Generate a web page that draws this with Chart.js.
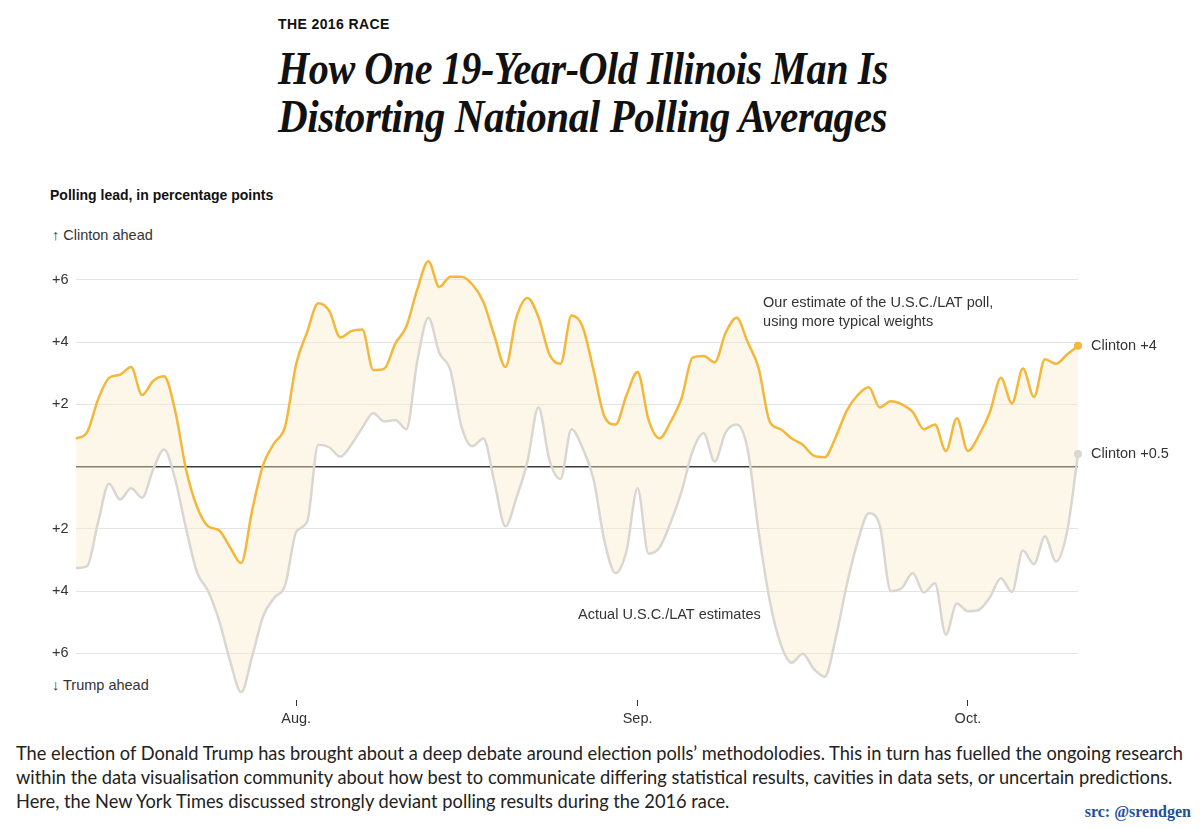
<!DOCTYPE html>
<html>
<head>
<meta charset="utf-8">
<script src="https://cdn.jsdelivr.net/npm/chart.js@4.4.0/dist/chart.umd.min.js"></script>
<style>
  body { margin: 0; width: 1200px; height: 828px; background: #fff; position: relative; overflow: hidden;
         font-family: "Liberation Sans", Arial, sans-serif; color: #333; }
  .abs { position: absolute; white-space: nowrap; }
  #kicker { left: 278px; top: 16px; font-size: 14px; font-weight: bold; color: #111; letter-spacing: 0.4px; }
  .hed { left: 278px; font-family: "Liberation Serif", serif; font-weight: bold; font-style: italic;
         font-size: 47px; line-height: 48px; color: #111; transform-origin: 0 0; letter-spacing: -0.5px; }
  #hed1 { top: 44px; }
  #hed2 { top: 92px; }
  .side { left: 52px; font-size: 14.5px; color: #333; }
  #ytitle { left: 50px; top: 187px; font-size: 14px; font-weight: bold; color: #111; }
  #up { top: 227px; }
  #down { top: 677px; }
  #wrap { position: absolute; left: 0; top: 240px; width: 1200px; height: 500px; }
  .cap { left: 16px; font-family: "Lato", sans-serif; font-size: 20px; line-height: 24px; color: #222; transform-origin: 0 0; }
  #cap1 { top: 740px; }
  #cap2 { top: 764px; }
  #cap3 { top: 788px; }
  #src { right: 9px; top: 803px; font-family: "Liberation Serif", serif; font-weight: bold; font-size: 16px; color: #1d4f9c; }
</style>
</head>
<body>
<div class="abs" id="kicker">THE 2016 RACE</div>
<div class="abs hed" id="hed1">How One 19-Year-Old Illinois Man Is</div>
<div class="abs hed" id="hed2">Distorting National Polling Averages</div>
<div class="abs side" id="ytitle">Polling lead, in percentage points</div>
<div class="abs side" id="up">↑ Clinton ahead</div>
<div class="abs side" id="down">↓ Trump ahead</div>
<div id="wrap"><canvas id="grafico"></canvas></div>
<div class="abs cap" id="cap1">The election of Donald Trump has brought about a deep debate around election polls’ methodolodies. This in turn has fuelled the ongoing research</div>
<div class="abs cap" id="cap2">within the data visualisation community about how best to communicate differing statistical results, cavities in data sets, or uncertain predictions.</div>
<div class="abs cap" id="cap3">Here, the New York Times discussed strongly deviant polling results during the 2016 race.</div>
<div class="abs" id="src">src: @srendgen</div>

<script>
// daily values, Jul. 12 to Oct. 11, 2016
const startDate = [2016, 6, 12];

// Our estimate of the U.S.C./LAT poll, using more typical weights
const estimate = [
  0.9, 1.1, 2.15, 2.85, 2.95, 3.2, 2.3, 2.75, 2.9, 1.8,
  -0.1, -1.3, -1.92, -2.05, -2.6, -3.1, -1.4, 0.06, 0.75, 1.3,
  3.3, 4.33, 5.25, 5.0, 4.15, 4.35, 4.4, 3.1, 3.15, 3.95,
  4.5, 5.7, 6.6, 5.77, 6.1, 6.1, 5.85, 5.29, 4.2, 3.2,
  4.8, 5.42, 4.8, 3.6, 3.3, 4.85, 4.5, 3.1, 1.6, 1.35,
  2.3, 3.04, 1.5, 0.91, 1.44, 2.2, 3.5, 3.55, 3.35, 4.3,
  4.78, 4.0, 3.15, 1.45, 1.2, 0.9, 0.7, 0.35, 0.3, 0.95,
  1.8, 2.3, 2.55, 1.9, 2.1, 2.0, 1.75, 1.2, 1.35, 0.5,
  1.55, 0.5, 1.0, 1.75, 2.85, 2.03, 3.15, 2.24, 3.45, 3.3,
  3.6, 3.88
];

// Actual U.S.C./LAT estimates
const actual = [
  -3.26, -3.2, -1.8, -0.55, -1.06, -0.7, -1.0, -0.1, 0.55, -0.4,
  -2.0, -3.4, -4.0, -4.95, -6.25, -7.25, -6.1, -4.8, -4.22, -3.8,
  -2.1, -1.76, 0.7, 0.62, 0.32, 0.7, 1.25, 1.71, 1.45, 1.5,
  1.2, 3.4, 4.78, 3.65, 3.1, 1.3, 0.65, 0.9, -0.5, -1.92,
  -1.0, 0.16, 1.9, 0.2, -0.4, 1.2, 0.6, -0.4, -2.4, -3.42,
  -2.7, -0.7, -2.8, -2.6, -1.8, -0.8, 0.5, 1.07, 0.16, 1.1,
  1.35, 0.55, -2.1, -4.3, -5.7, -6.3, -6.01, -6.5, -6.75, -5.5,
  -3.8, -2.4, -1.5, -1.9, -4.0, -3.9, -3.42, -4.05, -3.75, -5.4,
  -4.4, -4.65, -4.6, -4.2, -3.59, -4.03, -2.7, -3.13, -2.25, -3.05,
  -2.1, 0.4
];

const xTickDates = ['2016-08-01', '2016-09-01', '2016-10-01'];
const xTickLabels = ['Aug.', 'Sep.', 'Oct.'];
const yTickValues = [-6, -4, -2, 0, 2, 4, 6];
const yTickLabels = ['+6', '+4', '+2', '', '+2', '+4', '+6'];

const endLabels = ['Clinton +4', 'Clinton +0.5'];
const notes = [
  { text: 'Our estimate of the U.S.C./LAT poll,', day: 62.4, value: 5.24 },
  { text: 'using more typical weights', day: 62.4, value: 4.63 },
  { text: 'Actual U.S.C./LAT estimates', day: 45.6, value: -4.78 }
];

const fechas = estimate.map((v, i) =>
  new Date(Date.UTC(startDate[0], startDate[1], startDate[2] + i)).toISOString().slice(0, 10));
const tickIdx = xTickDates.map(d => fechas.indexOf(d));

const naranja = '#f5b73a';
const gris = '#dad7d1';
const ultimo = estimate.length - 1;

const anotaciones = {
  id: 'anotaciones',
  afterDatasetsDraw(chart) {
    const { ctx, scales: { x, y } } = chart;
    ctx.save();
    ctx.font = '14.5px "Liberation Sans", Arial, sans-serif';
    ctx.fillStyle = '#333';
    ctx.textBaseline = 'middle';
    ctx.textAlign = 'left';
    notes.forEach(n => ctx.fillText(n.text, x.getPixelForValue(n.day), y.getPixelForValue(n.value)));
    ctx.fillText(endLabels[0], x.getPixelForValue(ultimo) + 13, y.getPixelForValue(estimate[ultimo]));
    ctx.fillText(endLabels[1], x.getPixelForValue(ultimo) + 13, y.getPixelForValue(actual[ultimo]));
    ctx.restore();
  }
};

const ctx = document.getElementById('grafico').getContext('2d');
const grafico = new Chart(ctx, {
  type: 'line',
  data: {
    labels: fechas,
    datasets: [
      {
        label: 'Our estimate',
        data: estimate,
        borderColor: naranja,
        backgroundColor: naranja,
        borderWidth: 2.5,
        cubicInterpolationMode: 'monotone',
        pointRadius: c => c.dataIndex === ultimo ? 4 : 0,
        pointBorderWidth: 0,
        fill: false
      },
      {
        label: 'Actual',
        data: actual,
        borderColor: gris,
        backgroundColor: gris,
        borderWidth: 2.5,
        cubicInterpolationMode: 'monotone',
        pointRadius: c => c.dataIndex === ultimo ? 4 : 0,
        pointBorderWidth: 0,
        fill: { target: '-1', above: 'rgba(250, 236, 200, 0.4)', below: 'rgba(250, 236, 200, 0.4)' }
      }
    ]
  },
  options: {
    responsive: true,
    maintainAspectRatio: false,
    animation: false,
    layout: { padding: { left: 52, right: 122, top: 7, bottom: 0 } },
    plugins: { legend: { display: false }, tooltip: { enabled: false } },
    scales: {
      x: {
        type: 'category',
        afterBuildTicks: s => { s.ticks = tickIdx.map(i => ({ value: i })); },
        afterFit: s => { s.height = 40; },
        border: { display: false },
        grid: { drawOnChartArea: false, drawTicks: true, tickLength: 6, tickColor: '#333', tickWidth: 1 },
        ticks: {
          autoSkip: false, maxRotation: 0, padding: 4, color: '#333',
          font: { family: '"Liberation Sans", Arial, sans-serif', size: 14.5 },
          callback: v => xTickLabels[tickIdx.indexOf(v)]
        }
      },
      y: {
        min: -7.5,
        max: 7,
        afterBuildTicks: s => { s.ticks = yTickValues.map(v => ({ value: v })); },
        afterFit: s => { s.width = 24; },
        border: { display: false },
        grid: {
          drawTicks: false,
          color: c => c.tick && c.tick.value === 0 ? '#3a3a3a' : '#e4e4e4',
          lineWidth: c => c.tick && c.tick.value === 0 ? 1.5 : 1
        },
        ticks: {
          crossAlign: 'far', padding: 0, color: '#333',
          font: { family: '"Liberation Sans", Arial, sans-serif', size: 14.5 },
          callback: v => yTickLabels[yTickValues.indexOf(v)]
        }
      }
    }
  },
  plugins: [anotaciones]
});

// ajustar anchos de los textos al original
function ajustar(id, ancho) {
  const el = document.getElementById(id);
  const f = ancho / el.getBoundingClientRect().width;
  el.style.transform = 'scaleX(' + f + ')';
  return f;
}
ajustar('hed1', 610);
ajustar('hed2', 609);
const f = ajustar('cap1', 1167);
document.getElementById('cap2').style.transform = 'scaleX(' + f + ')';
document.getElementById('cap3').style.transform = 'scaleX(' + f + ')';
</script>
</body>
</html>
